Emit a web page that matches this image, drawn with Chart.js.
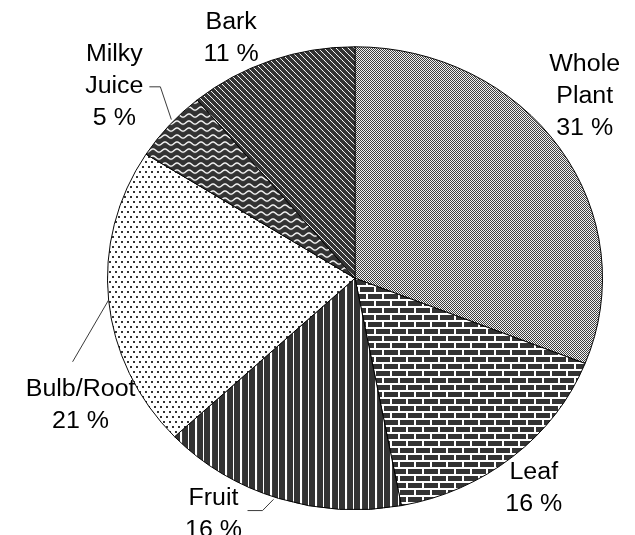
<!DOCTYPE html>
<html>
<head>
<meta charset="utf-8">
<script src="https://cdn.jsdelivr.net/npm/chart.js@4"></script>
<style>
    body { margin: 0; background: #fff; overflow: hidden; }
</style>
</head>
<body>
<canvas id="pieChart" width="635" height="572"></canvas>
<script>
// Data
const categories = ['Whole Plant', 'Leaf', 'Fruit', 'Bulb/Root', 'Milky Juice', 'Bark'];
const shares = [31, 16, 16, 21, 5, 11];

// Label placement (offset from the slice's outer edge at its mid angle)
const labelOffsets = [[25, -55], [21, 34], [-65, 17], [-28, 113], [-55, -41], [-40, -23]];
const leaderLines = [null, null, [[-5, 1], [-16, 13], [-31, 13]], [[0, 0], [-36, 66]],
    [[2, -6], [-9, -41], [-20, -41]], null];

const dark = '#333';
const squash = 535 / 572; // the reference pie is a slightly flattened ellipse

function makePattern(w, h, draw) {
    const c = document.createElement('canvas');
    c.width = w;
    c.height = h;
    const g = c.getContext('2d');
    draw(g, w, h);
    const p = g.createPattern(c, 'repeat');
    // undo the vertical squash so pattern pixels stay crisp
    p.setTransform(new DOMMatrix().scale(1, 1 / squash));
    return p;
}

const ctx = document.getElementById('pieChart').getContext('2d');

// Fill patterns, one per slice
const patterns = [
    // checkerboard
    makePattern(2, 2, (g) => {
        g.fillStyle = '#fff'; g.fillRect(0, 0, 2, 2);
        g.fillStyle = dark; g.fillRect(0, 0, 1, 1); g.fillRect(1, 1, 1, 1);
    }),
    // bricks
    makePattern(16, 14, (g) => {
        g.fillStyle = '#fff'; g.fillRect(0, 0, 16, 14);
        g.fillStyle = dark;
        g.fillRect(0, 0, 14, 5);
        g.fillRect(8, 7, 8, 5);
        g.fillRect(0, 7, 6, 5);
    }),
    // vertical stripes
    makePattern(15, 2, (g) => {
        g.fillStyle = dark; g.fillRect(0, 0, 15, 2);
        g.fillStyle = '#fff'; g.fillRect(0, 0, 2, 2); g.fillRect(8, 0, 1, 2);
    }),
    // sparse dots
    makePattern(12, 10, (g) => {
        g.fillStyle = '#fff'; g.fillRect(0, 0, 12, 10);
        g.fillStyle = dark;
        g.fillRect(1, 1, 2, 2); g.fillRect(7, 1, 2, 2);
        g.fillRect(4, 6, 2, 2); g.fillRect(10, 6, 2, 2);
    }),
    // waves
    makePattern(12, 7, (g) => {
        g.fillStyle = dark; g.fillRect(0, 0, 12, 7);
        g.strokeStyle = '#fff'; g.lineWidth = 1.4;
        g.beginPath();
        for (let x = -1; x <= 13; x += 0.5) {
            const y = 3.5 + 1.6 * Math.sin(2 * Math.PI * x / 12);
            if (x === -1) g.moveTo(x, y); else g.lineTo(x, y);
        }
        g.stroke();
    }),
    // diagonal lines
    makePattern(6, 6, (g) => {
        g.fillStyle = dark; g.fillRect(0, 0, 6, 6);
        g.strokeStyle = '#fff'; g.lineWidth = 1;
        g.beginPath();
        g.moveTo(-1, -1); g.lineTo(7, 7);
        g.moveTo(-1, 5); g.lineTo(1, 7);
        g.moveTo(5, -1); g.lineTo(7, 1);
        g.stroke();
    }),
];

// Flatten the whole drawing vertically
const squashPlugin = {
    id: 'squash',
    beforeDraw(chart) {
        chart.ctx.save();
        chart.ctx.setTransform(1, 0, 0, squash, 0, 0);
    },
    afterDraw(chart) {
        chart.ctx.restore();
    },
};

// Outside labels with leader lines
const sliceLabels = {
    id: 'sliceLabels',
    afterDatasetsDraw(chart) {
        const c = chart.ctx;
        const arcs = chart.getDatasetMeta(0).data;
        c.save();
        c.font = '25px "Liberation Sans", Arial, sans-serif';
        c.fillStyle = '#000';
        c.textAlign = 'center';
        c.textBaseline = 'middle';
        arcs.forEach((arc, i) => {
            const mid = (arc.startAngle + arc.endAngle) / 2;
            const ex = arc.x + arc.outerRadius * Math.cos(mid);
            const ey = arc.y + arc.outerRadius * Math.sin(mid);
            const lines = categories[i].split(' ');
            lines.push(shares[i] + ' %');
            const lh = 34;
            const cx = ex + labelOffsets[i][0];
            const cy = ey + labelOffsets[i][1];
            lines.forEach((t, k) => {
                c.fillText(t, cx, cy + (k - (lines.length - 1) / 2) * lh);
            });
            if (leaderLines[i]) {
                c.strokeStyle = dark;
                c.lineWidth = 1;
                c.beginPath();
                leaderLines[i].forEach((p, k) => {
                    if (k === 0) c.moveTo(ex + p[0], ey + p[1]);
                    else c.lineTo(ex + p[0], ey + p[1]);
                });
                c.stroke();
            }
        });
        c.restore();
    },
};

const chart = new Chart(ctx, {
    type: 'pie',
    data: {
        labels: categories,
        datasets: [{
            data: shares,
            backgroundColor: patterns,
            borderColor: '#000',
            borderWidth: 1,
        }],
    },
    options: {
        responsive: false,
        devicePixelRatio: 1,
        animation: false,
        layout: { padding: { left: 107, right: 32, top: 49, bottom: 26 } },
        plugins: {
            legend: { display: false },
            tooltip: { enabled: false },
        },
    },
    plugins: [squashPlugin, sliceLabels],
});
</script>
</body>
</html>
